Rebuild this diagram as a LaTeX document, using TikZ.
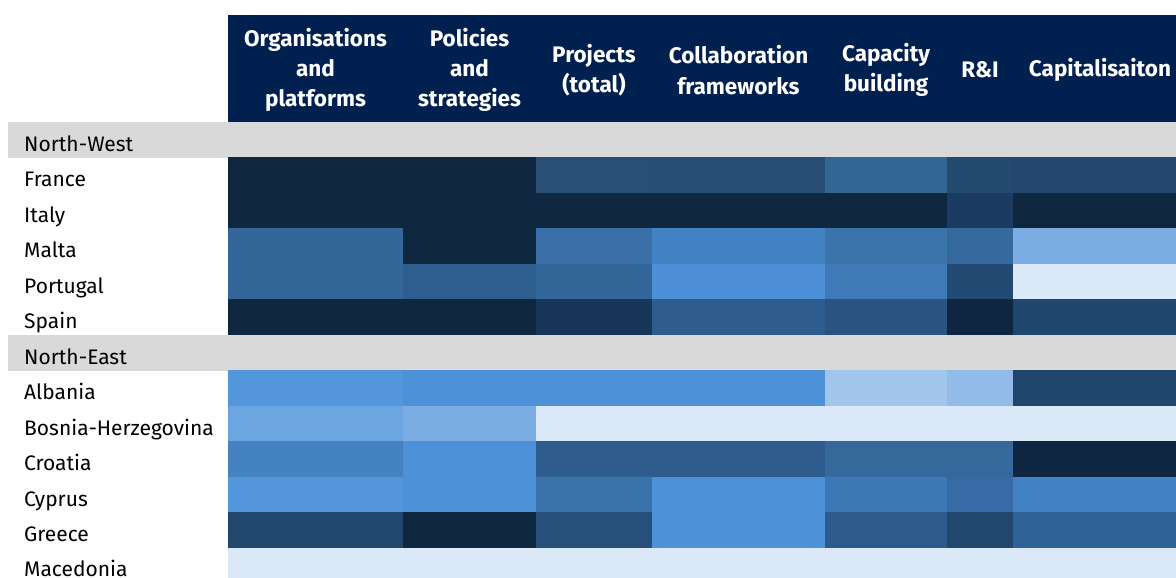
\documentclass[tikz,border=0pt]{standalone}
\usepackage{fontspec}
\setmainfont{Fira Sans}
\definecolor{navy}{HTML}{00204F}
\definecolor{graybar}{HTML}{D9D9D9}
\tikzset{
  rowlab/.style={anchor=base west, inner sep=0pt, font=\fontsize{21}{25}\selectfont, text=black},
  headlab/.style={anchor=center, inner sep=0pt, align=center, text=white, font=\bfseries\fontsize{22.5}{30.3}\selectfont},
}
\def\xs{{228,403,536,652,825,947,1013,1176}}
\newcommand\heatrow[2]{%
  \foreach \c [count=\i] in {#2} {
    \definecolor{cellc}{HTML}{\c}
    \pgfmathsetmacro\xa{\xs[\i-1]}
    \pgfmathsetmacro\xb{min(\xs[\i]+0.7,1176)}
    \pgfmathsetmacro\ya{122+35.46*#1}
    \pgfmathsetmacro\yb{min(122+35.46*(#1+1)+0.7,578)}
    \fill[cellc] (\xa,\ya) rectangle (\xb,\yb);
  }}
\begin{document}
\begin{tikzpicture}[x=1pt,y=-1pt]
\useasboundingbox[fill=white] (0,0) rectangle (1176,578);
% header band
\fill[navy] (228,15) rectangle (1176,122);
% region bars
\fill[graybar] (8,122) rectangle (1176,157.9);
\fill[graybar] (8,334.8) rectangle (1176,370.6);
% heat cells
\heatrow{1}{10283F,10283F,2A4F76,284E76,336595,254A70,23476E}
\heatrow{2}{10283F,10283F,10283F,10283F,10283F,1B3B60,10283F}
\heatrow{3}{336699,10283F,3A6FA8,4382C2,3A74AA,35699E,7BADE2}
\heatrow{4}{336699,2E5E8F,33679A,4D90D8,3E7AB7,234A72,DAE8F7}
\heatrow{5}{10283F,10283F,17365A,2E5D8D,2A547F,0E2642,21466E}
\heatrow{7}{5396DB,4D91D8,4D91D8,4D91D8,A1C5EB,93BBE8,21466E}
\heatrow{8}{6CA6E0,7BADE2,DAE8F7,DAE8F7,DAE8F7,DAE8F7,DAE8F7}
\heatrow{9}{4482C2,4D91D8,2E5D8D,2E5D8D,35689B,35689B,0E2642}
\heatrow{10}{5396DB,4D91D8,3A73AA,4D91D8,3D78B6,386BA6,4282C2}
\heatrow{11}{22476E,10283F,26507A,4D91D8,2C5A8A,22476F,2F6296}
\heatrow{12}{DAE8F7,DAE8F7,DAE8F7,DAE8F7,DAE8F7,DAE8F7,DAE8F7}
% header texts
\node[headlab] (h1) at (315.5,70) {Organisations\\and\\platforms};
\node[headlab] (h2) at (469.5,70) {Policies\\and\\strategies};
\node[headlab] (h3) at (594,70) {Projects\\(total)};
\node[headlab] (h4) at (738.5,70) {Collaboration\\frameworks};
\node[headlab] (h5) at (886,70) {Capacity\\building};
\node[headlab] (h6) at (980,70) {R\&I};
\node[headlab] (h7) at (1100,70) {Capitalisaiton};
% row labels
\node[rowlab] (nw) at (24,151.5) {North-West};
\node[rowlab] (fr) at (24,186.9) {France};
\node[rowlab] (it) at (24,222.4) {Italy};
\node[rowlab] (mt) at (24,257.9) {Malta};
\node[rowlab] (pt) at (24,293.3) {Portugal};
\node[rowlab] (es) at (24,328.8) {Spain};
\node[rowlab] (ne) at (24,364.3) {North-East};
\node[rowlab] (al) at (24,399.7) {Albania};
\node[rowlab] (ba) at (24,435.2) {Bosnia-Herzegovina};
\node[rowlab] (hr) at (24,470.6) {Croatia};
\node[rowlab] (cy) at (24,506.1) {Cyprus};
\node[rowlab] (gr) at (24,541.6) {Greece};
\node[rowlab] (mk) at (24,576.5) {Macedonia};
\end{tikzpicture}
\end{document}
